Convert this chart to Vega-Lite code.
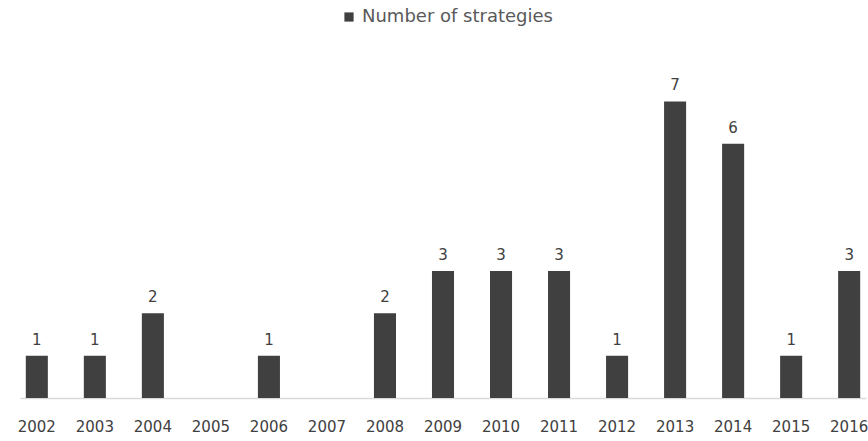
{
  "$schema": "https://vega.github.io/schema/vega-lite/v6.json",
  "width": 846,
  "height": 339,
  "autosize": {"type": "none"},
  "padding": {"left": 20, "top": 59, "right": 2, "bottom": 43},
  "background": "white",
  "config": {"view": {"stroke": null}, "font": "DejaVu Sans"},
  "data": {
    "values": [
      {"year": "2002", "value": 1, "series": "Number of strategies"},
      {"year": "2003", "value": 1, "series": "Number of strategies"},
      {"year": "2004", "value": 2, "series": "Number of strategies"},
      {"year": "2005", "value": 0, "series": "Number of strategies"},
      {"year": "2006", "value": 1, "series": "Number of strategies"},
      {"year": "2007", "value": 0, "series": "Number of strategies"},
      {"year": "2008", "value": 2, "series": "Number of strategies"},
      {"year": "2009", "value": 3, "series": "Number of strategies"},
      {"year": "2010", "value": 3, "series": "Number of strategies"},
      {"year": "2011", "value": 3, "series": "Number of strategies"},
      {"year": "2012", "value": 1, "series": "Number of strategies"},
      {"year": "2013", "value": 7, "series": "Number of strategies"},
      {"year": "2014", "value": 6, "series": "Number of strategies"},
      {"year": "2015", "value": 1, "series": "Number of strategies"},
      {"year": "2016", "value": 3, "series": "Number of strategies"}
    ]
  },
  "encoding": {
    "x": {
      "field": "year", "type": "ordinal",
      "scale": {"paddingInner": 0.62, "paddingOuter": 0.1},
      "axis": {
        "title": null, "labelAngle": 0, "ticks": false,
        "domainColor": "#d9d9d9", "domainWidth": 1.5,
        "labelFontSize": 15, "labelColor": "#404040", "labelPadding": 21
      }
    },
    "y": {
      "field": "value", "type": "quantitative",
      "scale": {"domain": [0, 8]},
      "axis": null
    }
  },
  "layer": [
    {
      "mark": {"type": "bar"},
      "encoding": {
        "color": {
          "field": "series", "type": "nominal",
          "scale": {"range": ["#404040"]},
          "legend": {
            "title": null, "orient": "none", "legendX": 320, "legendY": -51,
            "symbolType": "square", "symbolSize": 85, "symbolFillColor": "#404040",
            "labelFontSize": 18, "labelColor": "#595959", "labelOffset": 4,
            "labelLimit": 400
          }
        }
      }
    },
    {
      "transform": [{"filter": "datum.value > 0"}],
      "mark": {"type": "text", "baseline": "bottom", "dy": -8, "fontSize": 15, "color": "#404040"},
      "encoding": {"text": {"field": "value", "type": "quantitative"}}
    }
  ]
}
